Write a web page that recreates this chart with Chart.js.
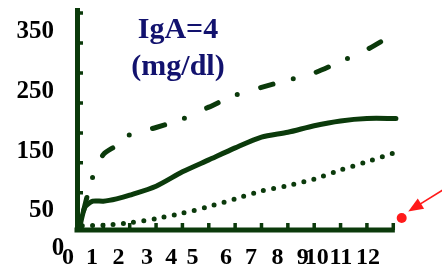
<!DOCTYPE html>
<html>
<head>
<meta charset="utf-8">
<script src="https://cdn.jsdelivr.net/npm/chart.js@4"></script>
<style>
  body { margin: 0; background: #fff; }
  #wrap { width: 442px; height: 271px; }
</style>
</head>
<body>
<div id="wrap"><canvas id="myChart"></canvas></div>
<script>
// age in months vs IgA (mg/dl)
const solidMonths = [0.08, 0.3, 0.6, 1, 1.5, 2, 3, 4, 5, 6, 7, 8, 9, 10, 11, 12.1];
const solidValues = [0, 38, 48, 48, 52, 58, 73, 97, 117, 137, 155, 163, 174, 182, 186, 186];

const dashMonths = [0.08, 0.42, 0.65, 1, 1.5, 2, 3, 4, 5, 6, 7, 8, 9, 10, 11, 11.8];
const dashValues = [2, 62, 95, 126, 141, 159, 171, 185, 205, 225, 238, 250, 262, 281, 301, 321];

const dotMonths = [0.2, 1, 2, 3, 4, 5, 6, 7, 8, 9, 10, 11, 12];
const dotValues = [7, 8, 12, 19, 28, 39, 52, 65, 74, 85, 100, 114, 128];

const markMonths = [12.32];
const markValues = [20];

const xTickLabels = ["0", "1", "2", "3", "4", "5", "6", "7", "8", "9", "10", "11", "12"];
const yTickLabels = ["50", "150", "250", "350"];
const yTickValues = [50, 150, 250, 350];

// the month labels are not under their tick marks in the original
const xLabelAt = [-0.34, 0.57, 1.57, 2.66, 3.58, 4.38, 5.65, 6.6, 7.61, 8.57, 9.1, 10.01, 11.04];
const xMarks = [1, 2, 3, 4, 5, 6, 7, 8, 9, 10, 11, 12];
const yMarks = [62, 112, 162, 212, 262, 312, 362];
const xAxisEnd = 12.06;

const green = "#0b3a0b";
const serif = "'Liberation Serif', 'Times New Roman', serif";

const toPoints = (xs, ys) => xs.map((x, i) => ({ x: x, y: ys[i] }));

const decor = {
  id: "decor",
  beforeDatasetsDraw(chart) {
    const { ctx, chartArea, scales } = chart;
    const xs = scales.x;
    const ys = scales.y;
    ctx.save();
    ctx.strokeStyle = green;

    // x axis line stops short of the marker
    ctx.lineWidth = 5;
    ctx.beginPath();
    ctx.moveTo(chartArea.left - 2.5, chartArea.bottom);
    ctx.lineTo(xs.getPixelForValue(xAxisEnd), chartArea.bottom);
    ctx.stroke();

    // inward tick marks
    ctx.lineWidth = 3.5;
    ctx.beginPath();
    xMarks.forEach((m) => {
      const px = xs.getPixelForValue(m);
      ctx.moveTo(px, chartArea.bottom);
      ctx.lineTo(px, chartArea.bottom - 7);
    });
    yMarks.forEach((v) => {
      const py = ys.getPixelForValue(v);
      ctx.moveTo(chartArea.left, py);
      ctx.lineTo(chartArea.left + 6, py);
    });
    ctx.stroke();
    ctx.restore();
  },
  afterDatasetsDraw(chart) {
    const { ctx, chartArea, scales } = chart;
    const xs = scales.x;
    const ys = scales.y;
    ctx.save();

    // y zero label sits apart from the others
    ctx.fillStyle = "#000";
    ctx.font = "bold 25px " + serif;
    ctx.textAlign = "center";
    ctx.textBaseline = "alphabetic";
    ctx.fillText("0", chartArea.left - 19, ys.getPixelForValue(0) + 25);

    // title inside the plot
    ctx.fillStyle = "#12126e";
    ctx.font = "bold 30px " + serif;
    ctx.fillText("IgA=4", 178, 38);
    ctx.fillText("(mg/dl)", 178, 75);

    // red arrow pointing at the marker
    const mx = xs.getPixelForValue(markMonths[0]);
    const my = ys.getPixelForValue(markValues[0]);
    const tipX = mx + 6.5, tipY = my - 6.5;
    const ux = 0.849, uy = -0.529;
    ctx.strokeStyle = "#ff1a1a";
    ctx.fillStyle = "#ff1a1a";
    ctx.lineWidth = 1.6;
    ctx.beginPath();
    ctx.moveTo(tipX + 12 * ux, tipY + 12 * uy);
    ctx.lineTo(tipX + 60 * ux, tipY + 60 * uy);
    ctx.stroke();
    const bx = tipX + 15 * ux, by = tipY + 15 * uy;
    ctx.beginPath();
    ctx.moveTo(tipX, tipY);
    ctx.lineTo(bx + 6 * 0.529, by + 6 * 0.849);
    ctx.lineTo(bx - 6 * 0.529, by - 6 * 0.849);
    ctx.closePath();
    ctx.fill();

    ctx.restore();
  },
};

const ctx = document.getElementById("myChart");

new Chart(ctx, {
  type: "line",
  data: {
    datasets: [
      {
        label: "solid",
        data: toPoints(solidMonths, solidValues),
        borderColor: green,
        borderWidth: 5,
        borderCapStyle: "round",
        borderJoinStyle: "round",
        tension: 0.25,
        pointRadius: 0,
      },
      {
        label: "dash-dot",
        data: toPoints(dashMonths, dashValues),
        borderColor: green,
        borderWidth: 5,
        borderCapStyle: "round",
        borderDash: [13, 21, 0, 24],
        borderDashOffset: 39,
        tension: 0.25,
        pointRadius: 0,
      },
      {
        label: "dotted",
        data: toPoints(dotMonths, dotValues),
        borderColor: green,
        borderWidth: 5,
        borderCapStyle: "round",
        borderDash: [0, 10.3],
        tension: 0.25,
        pointRadius: 0,
      },
      {
        label: "marker",
        data: toPoints(markMonths, markValues),
        showLine: false,
        pointRadius: 5,
        pointBackgroundColor: "#ff1a1a",
        pointBorderColor: "#ff1a1a",
        pointBorderWidth: 0,
        clip: false,
      },
    ],
  },
  options: {
    responsive: true,
    maintainAspectRatio: false,
    animation: false,
    layout: { padding: { top: 10, right: 39.5, left: 0, bottom: 0 } },
    plugins: {
      legend: { display: false },
      tooltip: { enabled: false },
    },
    scales: {
      x: {
        type: "linear",
        min: 0,
        max: 12.35,
        grid: { display: false, drawTicks: false },
        border: { display: false },
        afterBuildTicks: (scale) => {
          scale.ticks = xLabelAt.map((v) => ({ value: v }));
        },
        afterFit: (scale) => {
          scale.height = 41;
          scale.paddingLeft = 0;
          scale.paddingRight = 0;
        },
        ticks: {
          autoSkip: false,
          maxRotation: 0,
          minRotation: 0,
          padding: 13,
          color: "#000",
          font: { family: serif, size: 24, weight: "bold" },
          callback: (value, index) => xTickLabels[index],
        },
      },
      y: {
        min: 0,
        max: 367,
        grid: { display: false, drawTicks: false },
        border: { display: true, color: green, width: 5 },
        afterBuildTicks: (scale) => {
          scale.ticks = yTickValues.map((v) => ({ value: v }));
        },
        afterFit: (scale) => {
          scale.width = 77;
          scale.paddingTop = 0;
          scale.paddingBottom = 0;
        },
        ticks: {
          padding: 23,
          labelOffset: 11,
          color: "#000",
          font: { family: serif, size: 25, weight: "bold" },
          callback: (value, index) => yTickLabels[index],
        },
      },
    },
  },
  plugins: [decor],
});
</script>
</body>
</html>
